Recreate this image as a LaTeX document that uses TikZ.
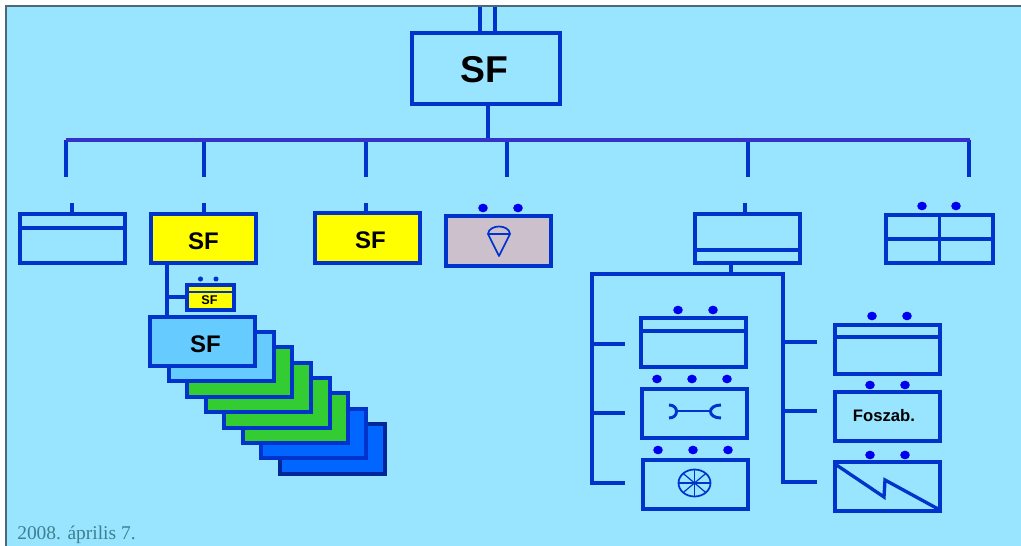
\documentclass[tikz,border=0pt]{standalone}
\usepackage{fontspec}
\usetikzlibrary{calc,shapes.geometric}
\setmainfont{Liberation Serif}
\setsansfont{Liberation Sans}
\definecolor{bg}{HTML}{99E5FF}
\definecolor{ln}{HTML}{0033CC}
\definecolor{busc}{HTML}{3333CC}
\definecolor{dotc}{HTML}{0000EE}
\definecolor{yel}{HTML}{FFFF00}
\definecolor{lb}{HTML}{66CCFF}
\definecolor{grn}{HTML}{33CC33}
\definecolor{blu}{HTML}{0066FF}
\definecolor{gry}{HTML}{CCC0CC}
\definecolor{edgec}{HTML}{4A6A78}
\definecolor{datec}{HTML}{3E7F92}
\tikzset{
 x=0.75pt,y=-0.75pt,
 wire/.style={draw=ln,line width=2.5pt},
 thin wire/.style={draw=ln,line width=1.3pt},
 boxx/.style={draw=ln,line width=2.5pt,rectangle,inner sep=0pt,outer sep=0pt,anchor=north west},
 lab/.style={inner sep=0pt,font=\sffamily\bfseries},
 pt/.style={ellipse,fill=dotc,draw=none,minimum width=7.2pt,minimum height=6.5pt,inner sep=0pt},
 sdot/.style={circle,fill=ln,inner sep=0pt,minimum size=3.8pt},
}
\newcommand{\bx}[6]{% name x0 y0 x1 y1 fill
 \pgfmathsetmacro{\boxw}{(#4-#2)*0.75}\pgfmathsetmacro{\boxh}{(#5-#3)*0.75}
 \node[boxx,fill=#6,minimum width=\boxw pt,minimum height=\boxh pt] (#1) at (#2,#3) {};}
\newcommand{\dt}[3]{\node[pt] (#1) at (#2,#3) {};}
\begin{document}
\begin{tikzpicture}
\useasboundingbox (0,0) rectangle (1021,546);
\fill[white] (0,0) rectangle (1021,546);
\fill[bg] (6,6) rectangle (1021,546);
\draw[draw=edgec,line width=0.9pt] (6,546) -- (6,6) -- (1021,6);
% top
\bx{top}{412}{33}{560}{104}{bg}
\node[lab,font=\sffamily\bfseries\fontsize{28}{30}\selectfont] (topl) at (484.5,70) {SF};
\coordinate (t1) at (480,7);\coordinate (t2) at (495,7);
\coordinate (b1) at (480,33);\coordinate (b2) at (495,33);
\draw[wire] (t1)--(b1);\draw[wire] (t2)--(b2);
% bus
\coordinate (bus0) at (66,140);\coordinate (bus1) at (970,140);
\coordinate (topd) at (488,140);
\draw[wire] (top.south -| topd)--(topd);
% upper drops
\foreach \n/\x in {a/66,b/204,c/366,d/507,e/748,f/969}{
 \coordinate (u\n) at (\x,140);\coordinate (v\n) at (\x,177);
 \draw[wire] (u\n)--(v\n);}
\draw[draw=busc,line width=2.5pt] (bus0)--(bus1);
% row boxes
\bx{A}{20}{214}{125}{263}{bg}
\coordinate (Al) at (20,228);\coordinate (Ar) at (125,228);\draw[wire] (Al)--(Ar);
\coordinate (As) at (72,203);\draw[wire] (As)--(A.north -| As);
\bx{B}{151}{214}{256}{263}{yel}
\node[lab,font=\sffamily\bfseries\fontsize{18}{20}\selectfont] (Bl) at (203.5,241) {SF};
\coordinate (Bs) at (204,203);\draw[wire] (Bs)--(B.north -| Bs);
\bx{C}{315}{213}{420}{263}{yel}
\node[lab,font=\sffamily\bfseries\fontsize{18}{20}\selectfont] (Cl) at (370.5,240) {SF};
\coordinate (Cs) at (366,203);\draw[wire] (Cs)--(C.north -| Cs);
\bx{D}{446}{216}{551}{266}{gry}
\dt{d1}{483}{208}\dt{d2}{518}{208}
\draw[thin wire,line join=round] (488,234)--(499,256)--(510,234)--cycle;
\draw[thin wire] (488,234) .. controls (489,224) and (509,224) .. (510,234);
\bx{E}{695}{214}{800}{263}{bg}
\coordinate (El) at (695,250);\coordinate (Er) at (800,250);\draw[wire] (El)--(Er);
\coordinate (Es) at (745,203);\draw[wire] (Es)--(E.north -| Es);
\bx{F}{886}{215}{993}{263}{bg}
\coordinate (Fl) at (886,239);\coordinate (Fr) at (993,239);\draw[wire] (Fl)--(Fr);
\coordinate (Fa) at (939.5,215);\coordinate (Fb) at (939.5,263);\draw[wire] (Fa)--(Fb);
\dt{f1}{922}{206}\dt{f2}{956}{206}
% B subtree
\coordinate (Bd) at (167,263);\coordinate (Be) at (167,317);\draw[wire] (Bd)--(Be);
\coordinate (Bj) at (167,297);\coordinate (Bk) at (186,297);\draw[wire] (Bj)--(Bk);
\bx{s}{187}{285}{234}{310}{yel}
\node[lab,font=\sffamily\bfseries\fontsize{9.5}{10}\selectfont] (st) at (209.5,300.5) {SF};
\coordinate (sl) at (187,292);\coordinate (sr) at (234,292);
\draw[wire,line width=2.2pt] (sl)--(sr);
\node[sdot] (s1) at (200.5,279) {};
\node[sdot] (s2) at (216,279) {};
% stack
\bx{k8}{280}{424}{385}{474}{blu}
\draw[draw=ln!75!black,line width=2.5pt] (k8.north west) rectangle (k8.south east);
\bx{k7}{261}{409}{366}{458}{blu}
\bx{k6}{243}{393}{348}{443}{grn}
\bx{k5}{224}{378}{330}{428}{grn}
\bx{k4}{206}{363}{311}{412}{grn}
\bx{k3}{187}{347}{292}{397}{grn}
\bx{k2}{169}{332}{274}{381}{lb}
\bx{k1}{150}{317}{255}{366}{lb}
\node[lab,font=\sffamily\bfseries\fontsize{18}{20}\selectfont] (k1l) at (205.5,344) {SF};
% E subtree
\coordinate (Ed) at (731,263);\coordinate (Ee) at (731,274);\draw[wire] (Ed)--(Ee);
\coordinate (H0) at (592,274);\coordinate (H1) at (783,274);\draw[wire,line cap=rect] (H0)--(H1);
\coordinate (L3) at (592,483);\coordinate (R3) at (783,482);
\draw[wire,line cap=rect] (H0)--(L3);\draw[wire,line cap=rect] (H1)--(R3);
\foreach \i/\y in {1/344,2/413,3/483}{
 \coordinate (la\i) at (592,\y);\coordinate (lb\i) at (625,\y);\draw[wire] (la\i)--(lb\i);}
\foreach \i/\y in {1/342,2/411,3/482}{
 \coordinate (ra\i) at (783,\y);\coordinate (rb\i) at (817,\y);\draw[wire] (ra\i)--(rb\i);}
\bx{G1}{641}{318}{746}{367}{bg}
\coordinate (G1l) at (641,331);\coordinate (G1r) at (746,331);\draw[wire] (G1l)--(G1r);
\dt{g11}{678}{310}\dt{g12}{713}{310}
\bx{G2}{642}{389}{747}{438}{bg}
\dt{g21}{657}{379}\dt{g22}{692}{379}\dt{g23}{727}{379}
\draw[draw=ln,line width=2.2pt] (669,405) .. controls (679,405) and (679,418) .. (669,418);
\draw[draw=ln,line width=2.2pt] (721,405) .. controls (707,405) and (707,418) .. (721,418);
\draw[draw=ln,line width=2.2pt] (676,411)--(711,411);
\bx{G3}{643}{460}{748}{509}{bg}
\dt{g31}{658}{450}\dt{g32}{693}{450}\dt{g33}{728}{450}
\draw[thin wire] (694.5,483) ellipse [x radius=16,y radius=13.5];
\foreach \a in {0,45,90,135}{
 \draw[draw=ln,line width=0.9pt] ($(694.5,483)+(\a:16 and 13.5)$)--($(694.5,483)+(\a+180:16 and 13.5)$);}
\bx{H1b}{835}{325}{940}{374}{bg}
\coordinate (H1l) at (835,337);\coordinate (H1r) at (940,337);\draw[wire] (H1l)--(H1r);
\dt{h11}{872}{316}\dt{h12}{907}{316}
\bx{H2b}{835}{392}{940}{441}{bg}
\node[lab,font=\sffamily\bfseries\fontsize{12.5}{14}\selectfont] (H2l) at (884,416) {Foszab.};
\dt{h21}{870}{385}\dt{h22}{905}{385}
\bx{H3b}{835}{462}{940}{511}{bg}
\dt{h31}{870}{455}\dt{h32}{905}{455}
\draw[wire,line join=miter] (835,464)--(884,497)--(885,480)--(940,510);
% date
\node[anchor=west,text=datec,inner sep=0pt,font=\fontsize{14.6}{16}\selectfont] (dt) at (17,535) {2008. április 7.};
\end{tikzpicture}
\end{document}
